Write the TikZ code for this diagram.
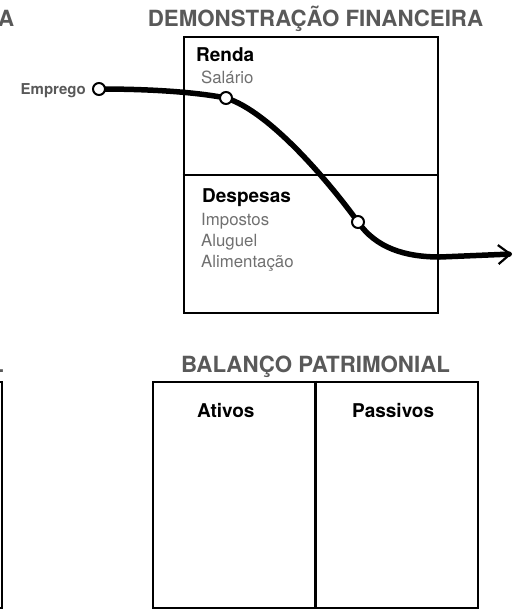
\documentclass[tikz,border=0pt]{standalone}
\usepackage{fontspec}
\setmainfont{TeX Gyre Heros}
\usetikzlibrary{arrows.meta}
\definecolor{titlegray}{HTML}{595959}
\definecolor{itemgray}{HTML}{707070}
\begin{document}
\begin{tikzpicture}[x=1pt, y=-1pt,
titlenode/.style={font=\fontsize{22.3}{26}\selectfont\bfseries, text=titlegray, inner sep=0pt, anchor=base},
headnode/.style={font=\fontsize{19}{22}\selectfont\bfseries, inner sep=0pt, anchor=base west},
itemnode/.style={font=\fontsize{16.8}{21}\selectfont, text=itemgray, inner sep=0pt, anchor=base west},
ringnode/.style={circle, draw=black, fill=white, line width=2pt, minimum size=12pt, inner sep=0pt},
boxnode/.style={rectangle, draw=black, line width=2.8pt, inner sep=0pt}]

\useasboundingbox (0,0) rectangle (516,610);

\node[titlenode, anchor=base east](leftTitleA) at (14.5, 27){A};
\node[titlenode](demoTitle) at (315.5, 27){DEMONSTRAÇÃO FINANCEIRA};
\node[titlenode, anchor=base east](leftTitleL) at (4, 372){L};
\node[titlenode](balancoTitle) at (315.5, 372){BALANÇO PATRIMONIAL};

\node[boxnode, minimum width=254pt, minimum height=276pt](demoBox) at (311, 175){};
\draw[line width=2.8pt](demoBox.west) -- (demoBox.east);

\node[boxnode, minimum width=325pt, minimum height=226pt](balancoBox) at (315.5, 495){};
\draw[line width=2.8pt](balancoBox.north) -- (balancoBox.south);
\node[boxnode, minimum width=300pt, minimum height=226pt](leftBox) at (-148, 495){};

\node[headnode](renda) at (196, 61){Renda};
\node[itemnode](salario) at (201, 83){Salário};
\node[headnode](despesas) at (202, 202){Despesas};
\node[itemnode](impostos) at (201, 225){Impostos};
\node[itemnode](aluguel) at (201, 246){Aluguel};
\node[itemnode](alimentacao) at (201, 267){Alimentação};

\node[headnode](ativos) at (197, 417){Ativos};
\node[headnode](passivos) at (352, 417){Passivos};

\node[font=\fontsize{15}{18}\selectfont\bfseries, text=titlegray, inner sep=0pt, anchor=base east](emprego) at (86, 94){Emprego};

\coordinate (empPt) at (99, 89);
\coordinate (salPt) at (226, 98);
\coordinate (impPt) at (358, 222);
\coordinate (bendPt) at (440, 257);
\coordinate (arrowEnd) at (512, 254);

\draw[line width=5.5pt, line cap=round, -{Straight Barb[length=12pt, width=19pt, line width=2.2pt]}](empPt) .. controls (150, 89) and (195, 92) .. (salPt) .. controls (271, 112) and (332, 186) .. (impPt) .. controls (376, 248) and (405, 257) .. (bendPt) -- (arrowEnd);

\node[ringnode](empRing) at (empPt){};
\node[ringnode](salRing) at (salPt){};
\node[ringnode](impRing) at (impPt){};

\end{tikzpicture}
\end{document}
